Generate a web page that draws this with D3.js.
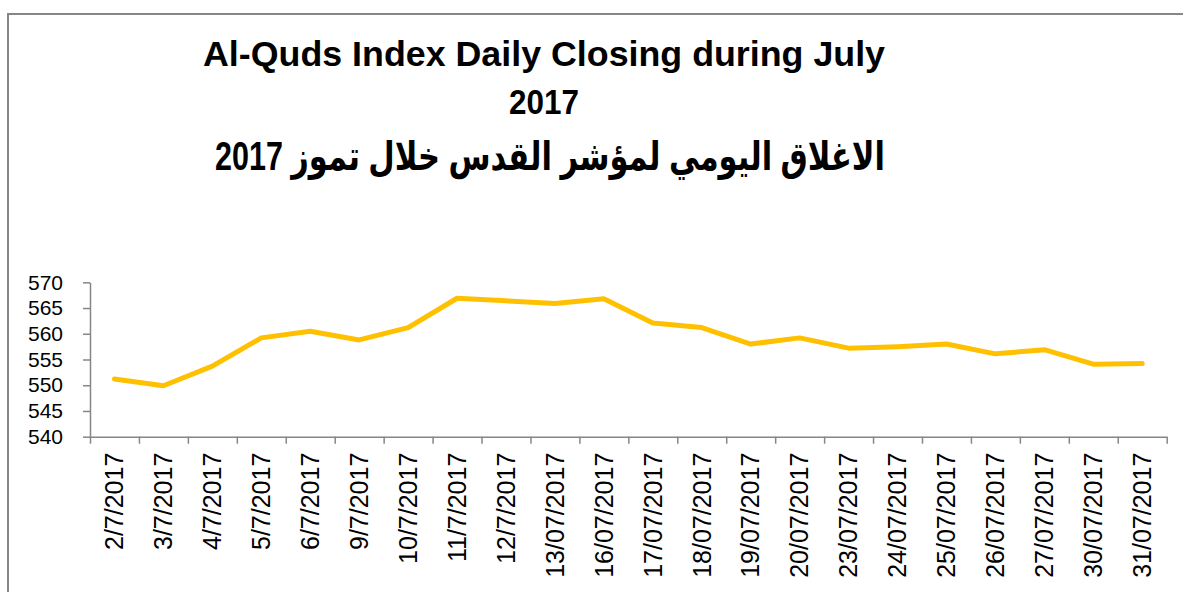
<!DOCTYPE html>
<html>
<head>
<meta charset="utf-8">
<script src="https://cdn.jsdelivr.net/npm/d3@7"></script>
<style>
  html, body { margin: 0; padding: 0; background: #fff; }
  svg { display: block; }
</style>
</head>
<body>
<svg id="chart" width="1183" height="592"></svg>
<script>
const categories = ["2/7/2017","3/7/2017","4/7/2017","5/7/2017","6/7/2017","9/7/2017","10/7/2017","11/7/2017","12/7/2017","13/07/2017","16/07/2017","17/07/2017","18/07/2017","19/07/2017","20/07/2017","23/07/2017","24/07/2017","25/07/2017","26/07/2017","27/07/2017","30/07/2017","31/07/2017"];
const values = [551.2, 549.9, 553.7, 559.2, 560.5, 558.8, 561.2, 566.9, 566.4, 565.9, 566.8, 562.1, 561.2, 558.0, 559.2, 557.2, 557.5, 558.0, 556.1, 556.9, 554.1, 554.2];
const yTicks = [540, 545, 550, 555, 560, 565, 570];
const titleLines = ["Al-Quds Index Daily Closing during July", "2017"];
const titleArabic = "الاغلاق اليومي لمؤشر القدس خلال تموز 2017";

const svg = d3.select("#chart");
const axisColor = "#868686";

// outer frame
svg.append("path")
  .attr("d", "M8,600 L8,14 L1190,14")
  .attr("fill", "none").attr("stroke", axisColor).attr("stroke-width", 2);

const pLeft = 90, pRight = 1166.7, pTop = 282.3, pBottom = 436.7;

const x = d3.scaleBand().domain(categories).range([pLeft, pRight]).padding(0);
const xIdx = d3.scaleLinear().domain([0, categories.length]).range([pLeft, pRight]);
const y = d3.scaleLinear().domain([540, 570]).range([pBottom, pTop]);

// y axis
const gy = svg.append("g").attr("transform", `translate(${pLeft},0)`)
  .call(d3.axisLeft(y).tickValues(yTicks).tickSize(7).tickPadding(20).tickSizeOuter(0));
gy.select(".domain").attr("stroke", axisColor).attr("stroke-width", 1.5);
gy.selectAll(".tick line").attr("stroke", axisColor).attr("stroke-width", 1.5);
gy.selectAll(".tick text").attr("font-family", "Liberation Sans, Arial, sans-serif")
  .attr("font-size", 21).attr("fill", "#000");

// x axis boundary ticks
const gxt = svg.append("g").attr("transform", `translate(0,${pBottom})`)
  .call(d3.axisBottom(xIdx).tickValues(d3.range(0, categories.length + 1)).tickSize(7).tickSizeOuter(0).tickFormat(""));
gxt.select(".domain").attr("stroke", axisColor).attr("stroke-width", 1.5);
gxt.selectAll(".tick line").attr("stroke", axisColor).attr("stroke-width", 1.5);

// x labels
const gx = svg.append("g").attr("transform", `translate(0,${pBottom})`)
  .call(d3.axisBottom(x).tickSize(0).tickPadding(0));
gx.select(".domain").remove();
gx.selectAll(".tick text")
  .attr("font-family", "Liberation Sans, Arial, sans-serif")
  .attr("font-size", 25).attr("fill", "#000")
  .attr("transform", "rotate(-90)")
  .attr("text-anchor", "end")
  .attr("x", -16).attr("y", 0).attr("dy", "0.35em");

// line
const line = d3.line()
  .x((d, i) => x(categories[i]) + x.bandwidth() / 2)
  .y(d => y(d));
svg.append("path").datum(values)
  .attr("d", line)
  .attr("fill", "none").attr("stroke", "#FFC000").attr("stroke-width", 5)
  .attr("stroke-linejoin", "round").attr("stroke-linecap", "round");

// titles
svg.append("text").attr("x", 544).attr("y", 66)
  .attr("text-anchor", "middle").attr("font-family", "Liberation Sans, Arial, sans-serif")
  .attr("font-weight", "bold").attr("font-size", 35)
  .attr("textLength", 682).attr("lengthAdjust", "spacingAndGlyphs")
  .text(titleLines[0]);
svg.append("text").attr("x", 544).attr("y", 114)
  .attr("text-anchor", "middle").attr("font-family", "Liberation Sans, Arial, sans-serif")
  .attr("font-weight", "bold").attr("font-size", 35)
  .attr("textLength", 70).attr("lengthAdjust", "spacingAndGlyphs")
  .text(titleLines[1]);
svg.append("text").attr("x", 550).attr("y", 170)
  .attr("text-anchor", "middle").attr("direction", "rtl")
  .attr("font-family", "Liberation Sans, DejaVu Sans, Arial, sans-serif")
  .attr("font-weight", "bold").attr("font-size", 40)
  .attr("textLength", 670).attr("lengthAdjust", "spacingAndGlyphs")
  .text(titleArabic);
</script>
</body>
</html>
